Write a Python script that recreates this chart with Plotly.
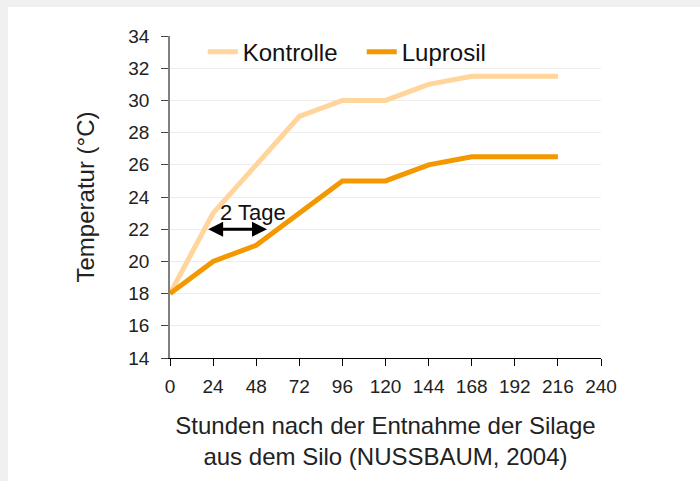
import plotly.graph_objects as go

hours = [0, 24, 48, 72, 96, 120, 144, 168, 192, 216]
kontrolle = [18, 23, 26, 29, 30, 30, 31, 31.5, 31.5, 31.5]
luprosil = [18, 20, 21, 23, 25, 25, 26, 26.5, 26.5, 26.5]
x_ticks = [0, 24, 48, 72, 96, 120, 144, 168, 192, 216, 240]
y_ticks = [14, 16, 18, 20, 22, 24, 26, 28, 30, 32, 34]

FONT = "Liberation Sans, Arial, sans-serif"

fig = go.Figure()
fig.add_trace(go.Scatter(x=hours, y=kontrolle, mode="lines", name="Kontrolle",
                         line=dict(color="#ffd59b", width=5)))
fig.add_trace(go.Scatter(x=hours, y=luprosil, mode="lines", name="Luprosil",
                         line=dict(color="#f39800", width=5)))

# white panel over gray page edge (top/left)
fig.add_shape(type="rect", xref="paper", yref="paper",
              x0=-0.3759, x1=1.3, y0=-0.5, y1=1.0901,
              fillcolor="white", line=dict(width=0), layer="below")

fig.add_annotation(x=54, y=22, ax=20.4, ay=22, xref="x", yref="y", axref="x", ayref="y",
                   text="", showarrow=True, arrowhead=2, arrowsize=1, arrowwidth=3,
                   arrowcolor="black", arrowside="end+start")
fig.add_annotation(x=46, y=23.05, xref="x", yref="y", text="2 Tage", showarrow=False,
                   font=dict(size=22, color="#111", family=FONT))

fig.update_layout(
    width=700, height=481,
    margin=dict(l=170, r=99, t=36, b=123),
    paper_bgcolor="#f0f0f0", plot_bgcolor="white",
    font=dict(family=FONT, color="#222"),
    showlegend=True,
    legend=dict(orientation="h", x=0.076, y=0.95, xanchor="left", yanchor="middle",
                font=dict(size=24, color="#111"), bgcolor="rgba(0,0,0,0)",
                itemwidth=30, entrywidth=114, entrywidthmode="pixels"),
    xaxis=dict(range=[0, 240], tickvals=x_ticks, ticktext=[str(t) for t in x_ticks],
               showgrid=False, zeroline=False, showline=True, linecolor="black", linewidth=1,
               ticks="outside", ticklen=7, tickcolor="black", tickfont=dict(size=19),
               ticklabelstandoff=4,
               title=dict(text="Stunden nach der Entnahme der Silage<br>aus dem Silo (NUSSBAUM, 2004)",
                          font=dict(size=24), standoff=21)),
    yaxis=dict(range=[14, 34], tickvals=y_ticks, ticktext=[str(t) for t in y_ticks],
               showgrid=True, gridcolor="#ededed", gridwidth=1, zeroline=False,
               showline=True, linecolor="#808080", linewidth=1.5,
               ticks="outside", ticklen=7, tickcolor="#444", tickfont=dict(size=19),
               ticklabelstandoff=8,
               title=dict(text="Temperatur (°C)", font=dict(size=24), standoff=27)),
)

fig.write_html("out.html", config={"displayModeBar": False},
               post_script="document.body.style.margin='0px';")
